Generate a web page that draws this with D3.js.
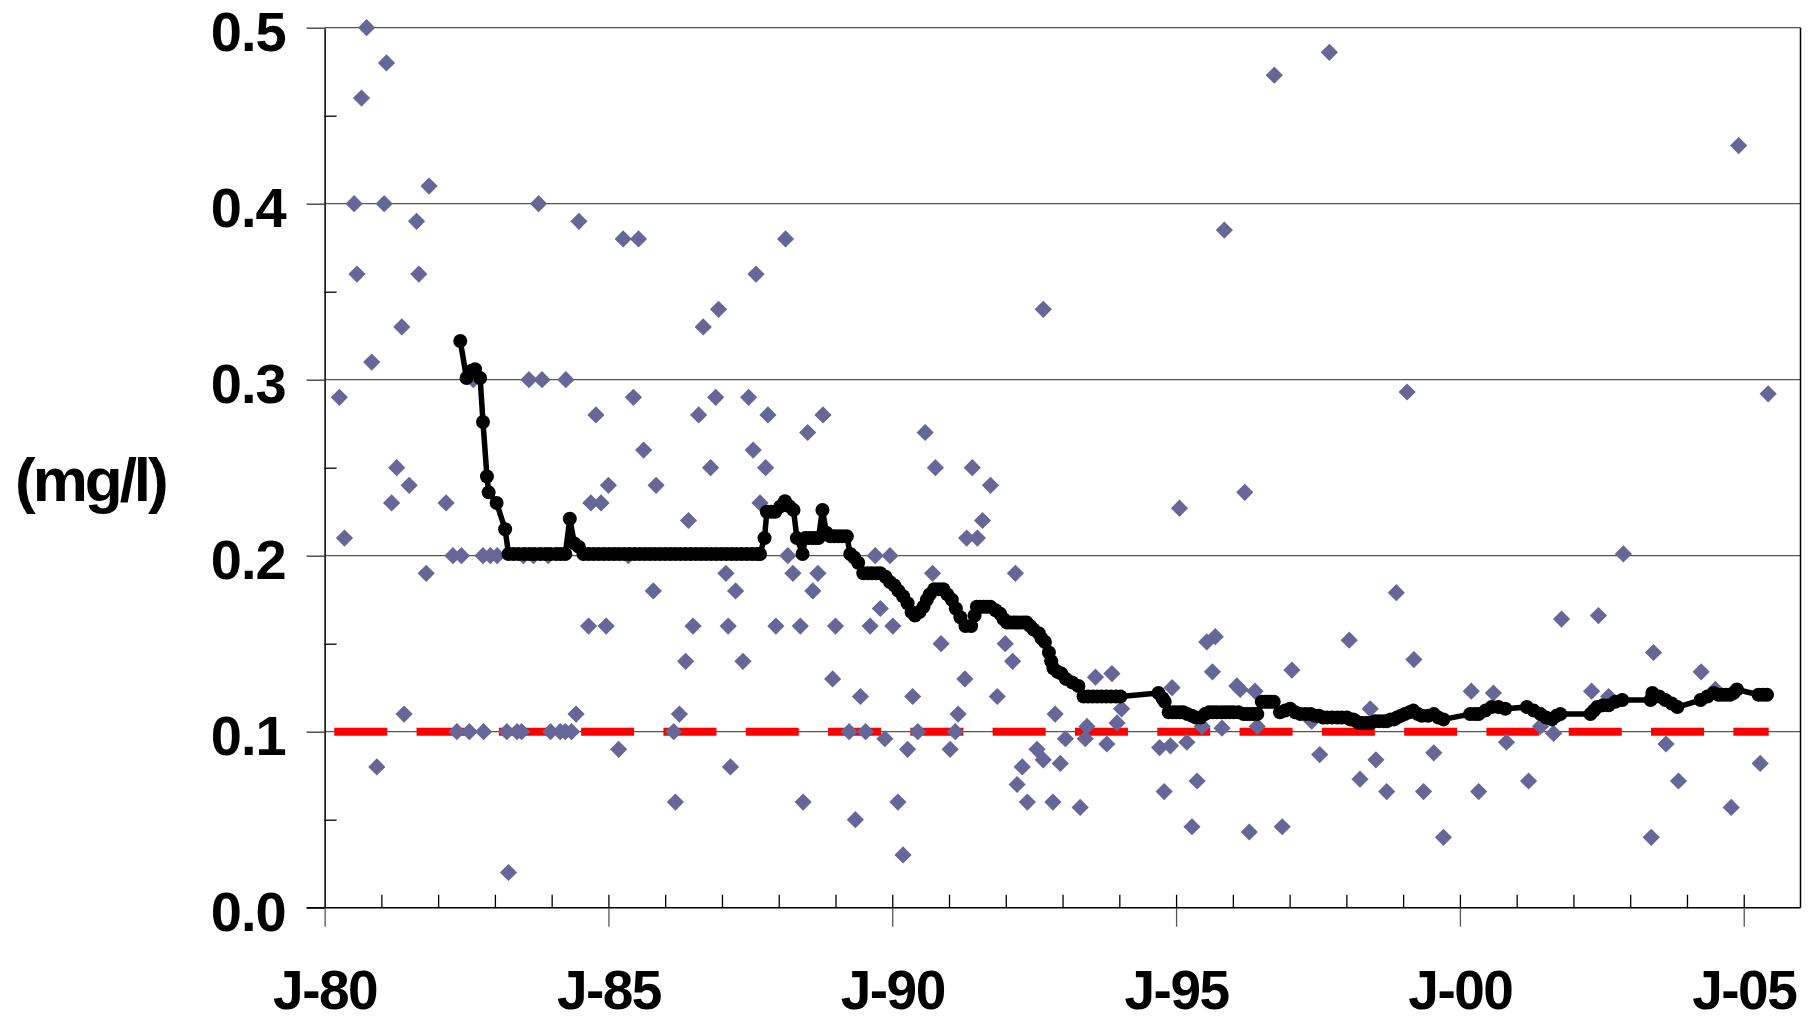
<!DOCTYPE html>
<html>
<head>
<meta charset="utf-8">
<script src="https://cdn.jsdelivr.net/npm/d3@7"></script>
<style>
  html, body { margin: 0; padding: 0; background: #fff; }
  svg { display: block; }
  text { font-family: "Liberation Sans", Arial, sans-serif; font-weight: bold; fill: #000; }
</style>
</head>
<body>
<svg id="chart" width="1818" height="1021"></svg>
<script>
// ---- data (decimal years, mg/l) ----
const samples = [
[1980.26,0.29],[1980.35,0.21],[1980.52,0.40],[1980.57,0.36],[1980.65,0.46],[1980.74,0.50],[1980.83,0.31],[1980.92,0.08],
[1981.05,0.40],[1981.09,0.48],[1981.18,0.23],[1981.27,0.25],[1981.36,0.33],[1981.40,0.11],[1981.49,0.24],[1981.62,0.39],
[1981.66,0.36],[1981.79,0.19],[1981.84,0.41],[1982.14,0.23],[1982.26,0.20],[1982.33,0.10],[1982.41,0.20],[1982.55,0.10],
[1982.62,0.30],[1982.79,0.20],[1982.80,0.10],[1982.92,0.20],[1983.04,0.20],[1983.21,0.10],[1983.24,0.02],[1983.39,0.10],
[1983.47,0.10],[1983.50,0.20],[1983.60,0.30],[1983.68,0.20],[1983.77,0.40],[1983.83,0.30],[1983.94,0.20],[1983.98,0.10],
[1984.15,0.10],[1984.24,0.10],[1984.25,0.30],[1984.35,0.10],[1984.43,0.11],[1984.48,0.39],[1984.65,0.16],[1984.69,0.23],
[1984.78,0.28],[1984.87,0.23],[1984.96,0.16],[1985.00,0.24],[1985.18,0.09],[1985.26,0.38],[1985.35,0.20],[1985.44,0.29],
[1985.53,0.38],[1985.62,0.26],[1985.79,0.18],[1985.84,0.24],[1986.15,0.10],[1986.18,0.06],[1986.25,0.11],[1986.36,0.14],
[1986.41,0.22],[1986.49,0.16],[1986.59,0.28],[1986.67,0.33],[1986.80,0.25],[1986.89,0.29],[1986.94,0.34],[1987.07,0.19],
[1987.11,0.16],[1987.15,0.08],[1987.24,0.18],[1987.37,0.14],[1987.47,0.29],[1987.55,0.26],[1987.60,0.36],[1987.67,0.23],
[1987.77,0.25],[1987.81,0.28],[1987.95,0.16],[1988.12,0.38],[1988.16,0.20],[1988.25,0.19],[1988.38,0.16],[1988.43,0.06],
[1988.51,0.27],[1988.60,0.18],[1988.69,0.19],[1988.78,0.28],[1988.95,0.13],[1989.00,0.16],[1989.24,0.10],[1989.35,0.05],
[1989.44,0.12],[1989.53,0.10],[1989.61,0.16],[1989.70,0.20],[1989.79,0.17],[1989.87,0.096],[1989.96,0.20],[1990.01,0.16],
[1990.10,0.06],[1990.19,0.03],[1990.27,0.09],[1990.36,0.12],[1990.45,0.10],[1990.58,0.27],[1990.71,0.19],[1990.76,0.25],
[1990.86,0.15],[1991.02,0.09],[1991.11,0.10],[1991.16,0.11],[1991.28,0.13],[1991.31,0.21],[1991.41,0.25],[1991.50,0.21],
[1991.59,0.22],[1991.73,0.24],[1991.85,0.12],[1991.99,0.15],[1992.12,0.14],[1992.17,0.19],[1992.20,0.07],[1992.29,0.08],
[1992.38,0.06],[1992.55,0.09],[1992.66,0.34],[1992.66,0.084],[1992.83,0.06],[1992.87,0.11],[1992.96,0.082],[1993.05,0.096],
[1993.31,0.057],[1993.40,0.096],[1993.43,0.103],[1993.58,0.131],[1993.78,0.093],[1993.87,0.133],[1993.96,0.105],[1994.04,0.113],
[1994.71,0.091],[1994.79,0.066],[1994.90,0.092],[1994.93,0.125],[1995.06,0.227],[1995.19,0.094],[1995.28,0.046],[1995.37,0.072],
[1995.46,0.103],[1995.54,0.151],[1995.64,0.134],[1995.69,0.154],[1995.81,0.102],[1995.85,0.385],[1996.07,0.126],[1996.13,0.124],
[1996.21,0.236],[1996.29,0.043],[1996.39,0.123],[1996.43,0.103],[1996.73,0.473],[1996.87,0.046],[1997.04,0.135],[1997.39,0.106],
[1997.53,0.087],[1997.70,0.486],[1998.05,0.152],[1998.24,0.073],[1998.42,0.113],[1998.52,0.084],[1998.71,0.066],[1998.88,0.179],
[1999.07,0.293],[1999.19,0.141],[1999.36,0.066],[1999.54,0.088],[1999.71,0.040],[2000.20,0.123],[2000.33,0.066],[2000.59,0.122],
[2000.82,0.094],[2001.21,0.072],[2001.42,0.103],[2001.65,0.099],[2001.79,0.164],[2002.32,0.123],[2002.44,0.166],[2002.62,0.120],
[2002.88,0.201],[2003.37,0.040],[2003.41,0.145],[2003.63,0.093],[2003.85,0.072],[2004.25,0.134],[2004.50,0.124],[2004.78,0.057],
[2004.91,0.433],[2005.29,0.082],[2005.43,0.292]
];

const medianLine = [
[1982.39,0.322],[1982.50,0.301],[1982.58,0.305],[1982.65,0.306],[1982.74,0.301],[1982.79,0.276],[1982.86,0.245],[1982.89,0.236],
[1983.03,0.230],[1983.18,0.215],[1983.24,0.201],[1983.33,0.201],[1983.42,0.201],[1983.52,0.201],[1983.61,0.201],[1983.70,0.201],
[1983.80,0.201],[1983.89,0.201],[1983.98,0.201],[1984.08,0.201],[1984.16,0.201],[1984.24,0.201],[1984.32,0.221],[1984.40,0.207],
[1984.48,0.205],[1984.56,0.201],[1984.65,0.201],[1984.74,0.201],[1984.83,0.201],[1984.92,0.201],[1985.01,0.201],[1985.10,0.201],
[1985.19,0.201],[1985.28,0.201],[1985.37,0.201],[1985.46,0.201],[1985.55,0.201],[1985.64,0.201],[1985.73,0.201],[1985.82,0.201],
[1985.91,0.201],[1986.00,0.201],[1986.09,0.201],[1986.18,0.201],[1986.27,0.201],[1986.36,0.201],[1986.45,0.201],[1986.54,0.201],
[1986.63,0.201],[1986.72,0.201],[1986.81,0.201],[1986.90,0.201],[1986.99,0.201],[1987.08,0.201],[1987.17,0.201],[1987.26,0.201],
[1987.35,0.201],[1987.44,0.201],[1987.53,0.201],[1987.61,0.201],[1987.67,0.201],[1987.75,0.210],[1987.79,0.225],[1987.87,0.225],
[1987.94,0.225],[1988.03,0.228],[1988.11,0.231],[1988.19,0.228],[1988.26,0.226],[1988.32,0.210],[1988.42,0.201],[1988.47,0.210],
[1988.53,0.210],[1988.59,0.210],[1988.65,0.210],[1988.70,0.210],[1988.77,0.226],[1988.84,0.213],[1988.91,0.211],[1988.98,0.211],
[1989.05,0.211],[1989.12,0.211],[1989.20,0.211],[1989.26,0.201],[1989.33,0.199],[1989.40,0.196],[1989.49,0.190],[1989.57,0.190],
[1989.64,0.190],[1989.72,0.190],[1989.79,0.190],[1989.88,0.188],[1989.96,0.185],[1990.04,0.183],[1990.11,0.180],[1990.19,0.177],
[1990.27,0.173],[1990.34,0.168],[1990.40,0.166],[1990.48,0.168],[1990.55,0.171],[1990.61,0.175],[1990.66,0.178],[1990.74,0.181],
[1990.82,0.181],[1990.90,0.181],[1990.97,0.178],[1991.05,0.175],[1991.12,0.170],[1991.20,0.165],[1991.29,0.160],[1991.39,0.160],
[1991.45,0.166],[1991.49,0.171],[1991.55,0.171],[1991.61,0.171],[1991.67,0.171],[1991.73,0.171],[1991.82,0.169],[1991.90,0.167],
[1991.96,0.164],[1992.02,0.162],[1992.08,0.162],[1992.14,0.162],[1992.20,0.162],[1992.26,0.162],[1992.32,0.162],[1992.37,0.162],
[1992.43,0.160],[1992.49,0.158],[1992.58,0.156],[1992.63,0.153],[1992.69,0.151],[1992.76,0.145],[1992.80,0.140],[1992.84,0.136],
[1992.91,0.134],[1992.98,0.133],[1993.06,0.130],[1993.17,0.128],[1993.28,0.126],[1993.37,0.120],[1993.45,0.120],[1993.53,0.120],
[1993.61,0.120],[1993.69,0.120],[1993.77,0.120],[1993.85,0.120],[1993.94,0.120],[1994.02,0.120],[1994.69,0.122],[1994.76,0.119],
[1994.80,0.117],[1994.87,0.111],[1994.94,0.111],[1995.00,0.111],[1995.07,0.111],[1995.13,0.111],[1995.20,0.110],[1995.28,0.109],
[1995.35,0.108],[1995.43,0.108],[1995.51,0.110],[1995.58,0.111],[1995.65,0.111],[1995.72,0.111],[1995.80,0.111],[1995.87,0.111],
[1995.94,0.111],[1996.01,0.111],[1996.10,0.111],[1996.19,0.110],[1996.25,0.110],[1996.31,0.110],[1996.37,0.110],[1996.43,0.110],
[1996.51,0.117],[1996.57,0.117],[1996.62,0.117],[1996.67,0.117],[1996.72,0.117],[1996.83,0.111],[1996.92,0.112],[1997.01,0.113],
[1997.10,0.111],[1997.19,0.110],[1997.28,0.110],[1997.37,0.110],[1997.45,0.109],[1997.52,0.109],[1997.59,0.108],[1997.66,0.108],
[1997.75,0.108],[1997.84,0.108],[1997.92,0.108],[1998.01,0.108],[1998.07,0.107],[1998.12,0.107],[1998.17,0.106],[1998.22,0.105],
[1998.29,0.105],[1998.36,0.105],[1998.43,0.105],[1998.51,0.106],[1998.58,0.106],[1998.66,0.106],[1998.72,0.106],[1998.78,0.107],
[1998.84,0.107],[1998.89,0.108],[1998.96,0.109],[1999.03,0.110],[1999.11,0.111],[1999.18,0.112],[1999.26,0.110],[1999.33,0.109],
[1999.44,0.109],[1999.54,0.110],[1999.62,0.108],[1999.71,0.107],[2000.18,0.110],[2000.26,0.110],[2000.33,0.110],[2000.45,0.112],
[2000.56,0.114],[2000.68,0.114],[2000.80,0.113],[2001.18,0.114],[2001.30,0.112],[2001.42,0.110],[2001.52,0.108],[2001.62,0.107],
[2001.70,0.109],[2001.77,0.110],[2002.30,0.110],[2002.36,0.112],[2002.42,0.114],[2002.52,0.115],[2002.62,0.115],[2002.74,0.117],
[2002.86,0.118],[2003.36,0.118],[2003.39,0.122],[2003.51,0.120],[2003.62,0.118],[2003.73,0.116],[2003.83,0.114],[2004.24,0.118],
[2004.36,0.120],[2004.47,0.122],[2004.55,0.121],[2004.62,0.121],[2004.69,0.121],[2004.76,0.121],[2004.82,0.122],[2004.88,0.124],
[2005.26,0.121],[2005.34,0.121],[2005.41,0.121]
];

const standardValue = 0.1;
const standardSpan = [1980.17, 2005.44];

const yTicks = [0.0, 0.1, 0.2, 0.3, 0.4, 0.5];
const yMinorTicks = [0.05, 0.15, 0.25, 0.35, 0.45];
const xTickYears = [1980, 1985, 1990, 1995, 2000, 2005];
const xTickLabels = ["J-80", "J-85", "J-90", "J-95", "J-00", "J-05"];
const xMinorYears = d3.range(1981, 2006);
const yAxisTitle = "(mg/l)";

// ---- layout ----
const svg = d3.select("#chart");
const plotLeft = 324.6, plotRight = 1800.5, plotTop = 27.7, plotBottom = 907.7;
const x = d3.scaleLinear().domain([1980, 2006]).range([plotLeft, plotRight]);
const y = d3.scaleLinear().domain([0, 0.5]).range([plotBottom, plotTop]);

svg.append("rect").attr("width", 1818).attr("height", 1021).attr("fill", "#fff");

// gridlines
svg.append("g").selectAll("line").data(yTicks.filter(d => d > 0)).join("line")
  .attr("x1", plotLeft).attr("x2", plotRight)
  .attr("y1", d => y(d)).attr("y2", d => y(d))
  .attr("stroke", "#555").attr("stroke-width", 1.3);

// right border
svg.append("line").attr("x1", plotRight).attr("x2", plotRight).attr("y1", plotTop).attr("y2", plotBottom)
  .attr("stroke", "#000").attr("stroke-width", 1.5);

// red standard line
svg.append("line")
  .attr("x1", x(standardSpan[0])).attr("x2", x(standardSpan[1]))
  .attr("y1", y(standardValue)).attr("y2", y(standardValue))
  .attr("stroke", "#FF0000").attr("stroke-width", 8)
  .attr("stroke-dasharray", "53,29.3");

// scatter diamonds
const diamond = d3.symbol().type(d3.symbolSquare).size(148);
svg.append("g").selectAll("path").data(samples).join("path")
  .attr("d", diamond)
  .attr("transform", d => `translate(${x(d[0])},${y(d[1])}) rotate(45)`)
  .attr("fill", "#666699");

// running median line
svg.append("path").datum(medianLine)
  .attr("d", d3.line().x(d => x(d[0])).y(d => y(d[1])))
  .attr("fill", "none").attr("stroke", "#000").attr("stroke-width", 5.5)
  .attr("stroke-linejoin", "round");
svg.append("g").selectAll("circle").data(medianLine).join("circle")
  .attr("cx", d => x(d[0])).attr("cy", d => y(d[1])).attr("r", 7)
  .attr("fill", "#000");

// y axis
const yAxis = svg.append("g").attr("transform", `translate(${plotLeft},0)`)
  .call(d3.axisLeft(y).tickValues(yTicks).tickSize(18).tickSizeOuter(0)
    .tickPadding(21).tickFormat(d3.format(".1f")));
yAxis.select(".domain").attr("stroke", "#000").attr("stroke-width", 1.5);
yAxis.selectAll(".tick line").attr("stroke", "#333").attr("stroke-width", 1.3);
yAxis.selectAll("text").attr("font-size", 56).attr("font-family", "Liberation Sans, Arial, sans-serif")
  .attr("font-weight", "bold").attr("fill", "#000").attr("dy", "0.4em").attr("letter-spacing", -1);

svg.append("g").attr("transform", `translate(${plotLeft},0)`)
  .call(d3.axisRight(y).tickValues(yMinorTicks).tickSize(12).tickFormat(""))
  .call(g => g.select(".domain").remove())
  .selectAll(".tick line").attr("stroke", "#000").attr("stroke-width", 1.3);

// x axis
const xAxis = svg.append("g").attr("transform", `translate(0,${plotBottom})`)
  .call(d3.axisBottom(x).tickValues(xTickYears).tickSize(19).tickSizeOuter(0)
    .tickFormat((d, i) => xTickLabels[i]));
xAxis.select(".domain").attr("stroke", "#000").attr("stroke-width", 1.5)
  .attr("d", `M${plotLeft - 18},0H${plotRight}`);
xAxis.selectAll(".tick line").attr("stroke", "#555").attr("stroke-width", 1.3);
xAxis.selectAll("text").attr("font-size", 55).attr("font-family", "Liberation Sans, Arial, sans-serif")
  .attr("font-weight", "bold").attr("fill", "#000")
  .attr("y", 1009 - plotBottom).attr("dy", 0).attr("letter-spacing", -1.5);

svg.append("g").attr("transform", `translate(0,${plotBottom})`)
  .call(d3.axisTop(x).tickValues(xMinorYears).tickSize(13).tickFormat(""))
  .call(g => g.select(".domain").remove())
  .selectAll(".tick line").attr("stroke", "#000").attr("stroke-width", 1.3);

// y axis title
svg.append("text").attr("x", 15).attr("y", 501)
  .attr("font-size", 62).attr("letter-spacing", -3)
  .text(yAxisTitle);
</script>
</body>
</html>
